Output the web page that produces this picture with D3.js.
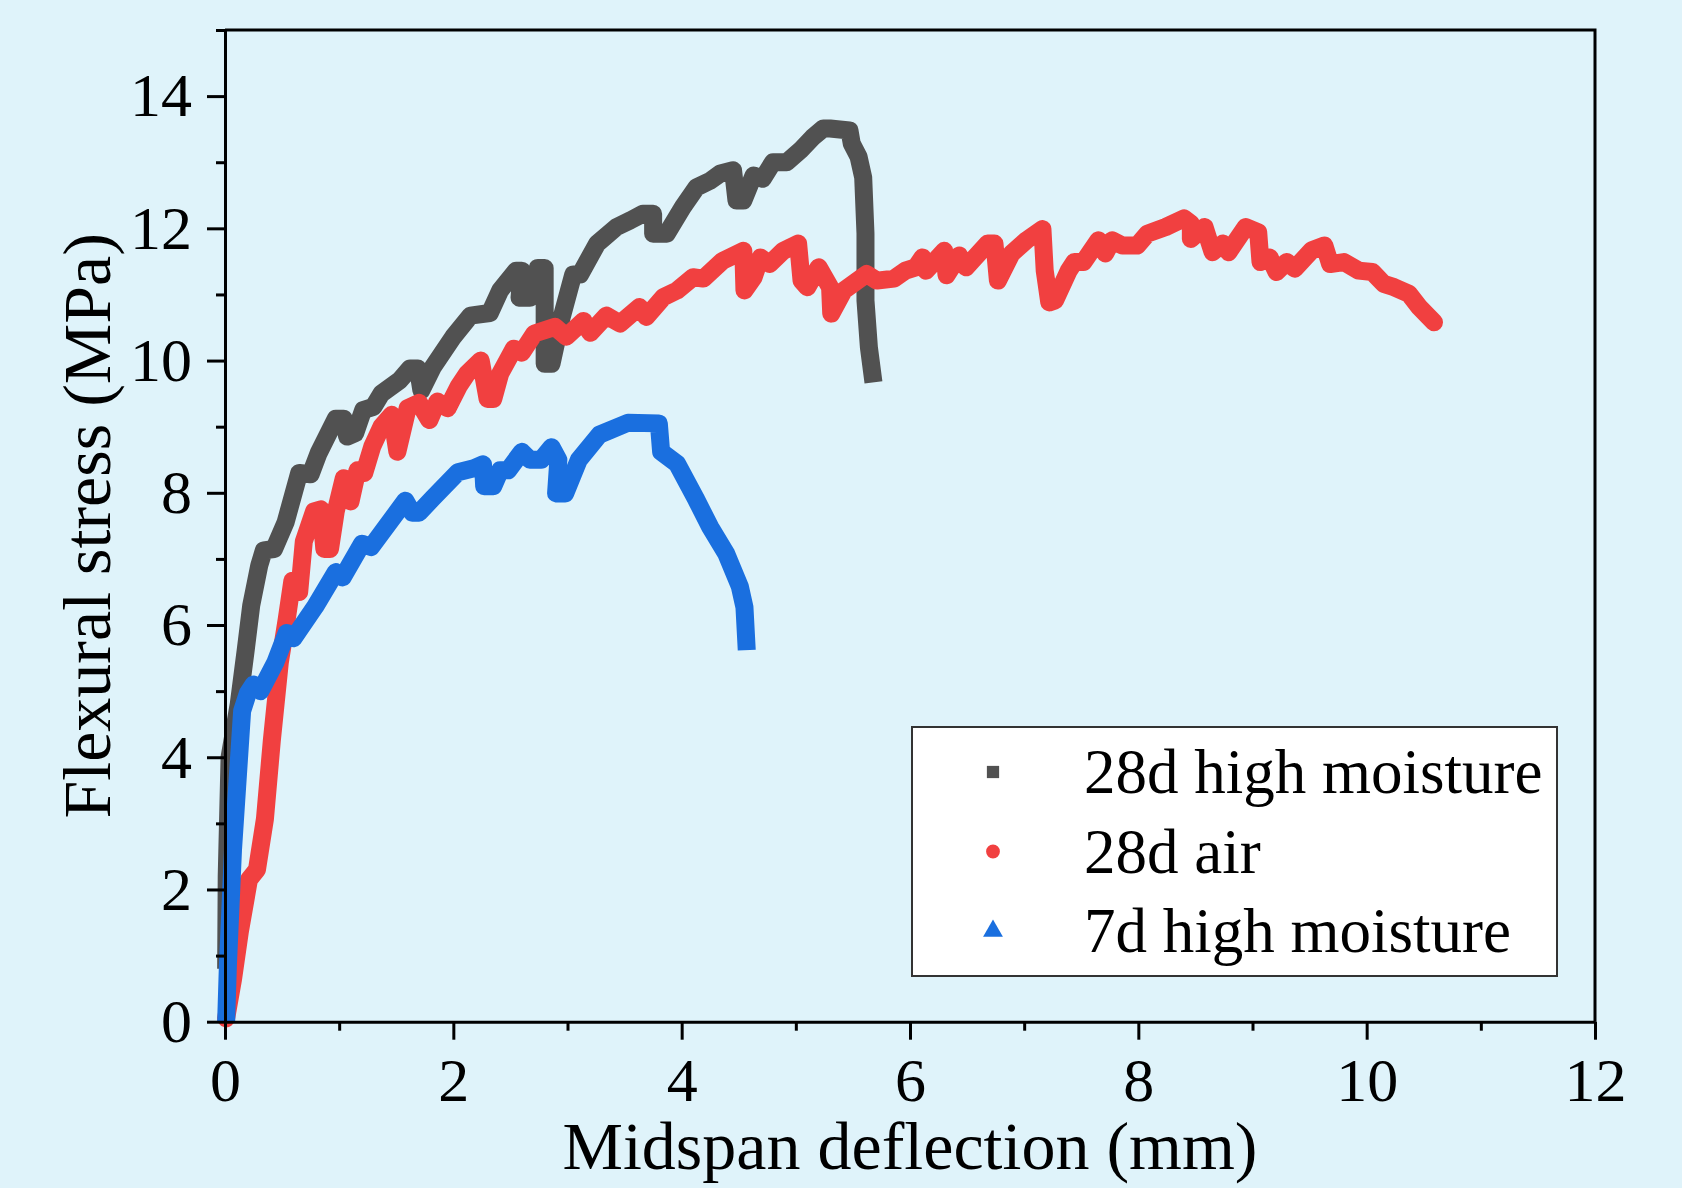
<!DOCTYPE html>
<html>
<head>
<meta charset="utf-8">
<script src="https://cdn.jsdelivr.net/npm/d3@7"></script>
<style>
  html, body { margin: 0; padding: 0; background: #DFF3FA; }
  svg text { font-family: "Liberation Serif", "Times New Roman", serif; fill: #000; }
</style>
</head>
<body>
<svg id="chart" width="1682" height="1188"></svg>
<script>
// curves: [deflection (mm), stress (MPa)]
const moist28 = [
    [0.01, 0.8], [0.015, 2.2], [0.04, 4.0], [0.12, 4.8], [0.18, 5.6], [0.23, 6.3], [0.3, 6.9],
    [0.34, 7.13], [0.43, 7.15], [0.53, 7.55], [0.65, 8.3], [0.75, 8.28], [0.82, 8.6],
    [0.97, 9.12], [1.04, 9.12], [1.07, 8.85], [1.14, 8.9], [1.21, 9.25], [1.30, 9.3],
    [1.37, 9.5], [1.53, 9.7], [1.62, 9.88], [1.69, 9.88], [1.72, 9.55], [1.82, 9.9],
    [2.0, 10.36], [2.15, 10.68], [2.32, 10.72], [2.41, 11.06], [2.55, 11.36], [2.60, 11.36],
    [2.58, 10.95], [2.67, 10.95], [2.74, 11.4], [2.80, 11.4], [2.80, 9.95], [2.86, 9.95],
    [2.95, 10.66], [3.05, 11.3], [3.11, 11.3], [3.26, 11.77], [3.43, 12.02], [3.55, 12.12],
    [3.66, 12.22], [3.75, 12.22], [3.75, 11.92], [3.87, 11.92], [4.01, 12.32], [4.13, 12.62],
    [4.25, 12.72], [4.34, 12.83], [4.45, 12.88], [4.48, 12.42], [4.54, 12.42], [4.63, 12.8],
    [4.71, 12.75], [4.80, 13.0], [4.92, 13.0], [5.04, 13.18], [5.15, 13.38], [5.24, 13.51],
    [5.30, 13.51], [5.47, 13.48], [5.49, 13.28], [5.55, 13.08], [5.59, 12.77], [5.61, 11.92],
    [5.61, 10.91], [5.64, 10.2], [5.68, 9.67]
];

const air28 = [
    [0.01, 0.05], [0.07, 0.64], [0.13, 1.36], [0.21, 2.15], [0.28, 2.3], [0.35, 3.07],
    [0.41, 4.25], [0.48, 5.43], [0.54, 6.08], [0.59, 6.67], [0.65, 6.5], [0.69, 7.26],
    [0.78, 7.72], [0.84, 7.75], [0.87, 7.15], [0.92, 7.15], [0.97, 7.72], [1.04, 8.22],
    [1.10, 7.87], [1.16, 8.34], [1.22, 8.3], [1.29, 8.7], [1.37, 9.0], [1.46, 9.18],
    [1.51, 8.62], [1.60, 9.28], [1.70, 9.36], [1.79, 9.1], [1.86, 9.38], [1.95, 9.28],
    [2.05, 9.62], [2.12, 9.8], [2.24, 10.0], [2.30, 9.42], [2.35, 9.42], [2.41, 9.8],
    [2.53, 10.18], [2.60, 10.12], [2.71, 10.41], [2.89, 10.51], [2.99, 10.36], [3.14, 10.6],
    [3.20, 10.42], [3.34, 10.68], [3.46, 10.56], [3.63, 10.81], [3.69, 10.66], [3.84, 10.96],
    [3.96, 11.06], [4.10, 11.26], [4.19, 11.24], [4.36, 11.51], [4.54, 11.66], [4.55, 11.06],
    [4.63, 11.26], [4.69, 11.56], [4.77, 11.46], [4.89, 11.66], [5.02, 11.77], [5.05, 11.21],
    [5.10, 11.11], [5.20, 11.41], [5.30, 11.11], [5.31, 10.71], [5.42, 11.06], [5.62, 11.31],
    [5.71, 11.21], [5.86, 11.24], [5.96, 11.36], [6.05, 11.41], [6.11, 11.56], [6.14, 11.36],
    [6.30, 11.66], [6.32, 11.29], [6.43, 11.59], [6.49, 11.41], [6.68, 11.77], [6.74, 11.77],
    [6.77, 11.21], [6.89, 11.62], [7.02, 11.82], [7.16, 11.99], [7.18, 11.36], [7.22, 10.88],
    [7.27, 10.91], [7.39, 11.36], [7.44, 11.49], [7.52, 11.49], [7.65, 11.82], [7.71, 11.62],
    [7.77, 11.82], [7.86, 11.74], [7.99, 11.74], [8.08, 11.92], [8.24, 12.02], [8.40, 12.15],
    [8.46, 12.07], [8.46, 11.84], [8.58, 12.02], [8.65, 11.64], [8.74, 11.77], [8.79, 11.64],
    [8.94, 12.02], [9.05, 11.94], [9.07, 11.49], [9.15, 11.56], [9.21, 11.34], [9.30, 11.49],
    [9.37, 11.39], [9.52, 11.67], [9.63, 11.74], [9.68, 11.46], [9.80, 11.49], [9.93, 11.36],
    [10.05, 11.34], [10.15, 11.16], [10.24, 11.11], [10.37, 11.01], [10.46, 10.81], [10.59, 10.58]
];

const moist7 = [
    [0.01, 0.0], [0.025, 0.84], [0.07, 2.6], [0.15, 4.7], [0.2, 4.97], [0.25, 5.1], [0.31, 5.0],
    [0.44, 5.43], [0.54, 5.88], [0.6, 5.8], [0.79, 6.28], [0.97, 6.8], [1.03, 6.72],
    [1.2, 7.23], [1.28, 7.18], [1.58, 7.88], [1.64, 7.7], [1.70, 7.7], [1.82, 7.92],
    [2.04, 8.31], [2.18, 8.37], [2.26, 8.43], [2.27, 8.1], [2.35, 8.1], [2.41, 8.34],
    [2.48, 8.34], [2.60, 8.62], [2.67, 8.5], [2.77, 8.5], [2.86, 8.69], [2.92, 8.5],
    [2.90, 7.99], [2.98, 7.99], [3.10, 8.5], [3.28, 8.88], [3.53, 9.06], [3.80, 9.05],
    [3.82, 8.62], [3.96, 8.44], [4.13, 7.89], [4.25, 7.48], [4.39, 7.08], [4.51, 6.58],
    [4.55, 6.27], [4.57, 5.62]
];

const seriesNames = ["28d high moisture", "28d air", "7d high moisture"];
const seriesColors = ["#515151", "#F14040", "#1A6FDF"];
const seriesSymbols = [d3.symbolSquare, d3.symbolCircle, d3.symbolTriangle];

const xMajor = [0, 2, 4, 6, 8, 10, 12];
const xMinor = [1, 3, 5, 7, 9, 11];
const yMajor = [0, 2, 4, 6, 8, 10, 12, 14];
const yMinor = [1, 3, 5, 7, 9, 11, 13, 15];

const width = 1682;
const height = 1188;
const plotLeft = 225, plotRight = 1595, plotTop = 30, plotBottom = 1021.7;

const svg = d3.select("#chart");

svg.append("rect")
    .attr("width", width)
    .attr("height", height)
    .attr("fill", "#DFF3FA");

const xScale = d3.scaleLinear().domain([0, 12]).range([plotLeft, plotRight]);
const yScale = d3.scaleLinear().domain([0, 15]).range([plotBottom, plotTop]);

// curves, drawn in the order Origin stacks them
const line = d3.line()
    .x(function (d) { return xScale(d[0]); })
    .y(function (d) { return yScale(d[1]); });

[moist28, air28, moist7].forEach(function (pts, i) {
    svg.append("path")
        .datum(pts)
        .attr("d", line)
        .attr("fill", "none")
        .attr("stroke", seriesColors[i])
        .attr("stroke-width", 18)
        .attr("stroke-linejoin", "round")
        .attr("stroke-linecap", i == 1 ? "round" : "butt");
});

// frame: top and right edges
svg.append("path")
    .attr("d", `M${plotLeft},${plotTop}H${plotRight}V${plotBottom}`)
    .attr("fill", "none")
    .attr("stroke", "#000")
    .attr("stroke-width", 3);

// x axis
svg.append("g")
    .attr("transform", `translate(0, ${plotBottom})`)
    .call(d3.axisBottom(xScale).tickValues(xMajor).tickSize(18).tickSizeOuter(0).tickPadding(17));
svg.append("g")
    .attr("transform", `translate(0, ${plotBottom})`)
    .call(d3.axisBottom(xScale).tickValues(xMinor).tickSize(9).tickFormat(""))
    .select(".domain").remove();

// y axis
svg.append("g")
    .attr("transform", `translate(${plotLeft}, 0)`)
    .call(d3.axisLeft(yScale).tickValues(yMajor).tickSize(18).tickSizeOuter(0).tickPadding(15));
svg.append("g")
    .attr("transform", `translate(${plotLeft}, 0)`)
    .call(d3.axisLeft(yScale).tickValues(yMinor).tickSize(9).tickFormat(""))
    .select(".domain").remove();

svg.selectAll(".domain, .tick line")
    .attr("stroke", "#000")
    .attr("stroke-width", 3);
svg.selectAll(".tick text")
    .attr("font-family", "Liberation Serif, Times New Roman, serif")
    .attr("font-size", 62)
    .attr("fill", "#000");

// axis titles
svg.append("text")
    .attr("x", (plotLeft + plotRight) / 2)
    .attr("y", 1169)
    .attr("text-anchor", "middle")
    .attr("font-size", 68)
    .text("Midspan deflection (mm)");

svg.append("text")
    .attr("transform", `translate(110, ${(plotTop + plotBottom) / 2}) rotate(-90)`)
    .attr("text-anchor", "middle")
    .attr("font-size", 68)
    .text("Flexural stress (MPa)");

// legend
const legend = svg.append("g").attr("transform", "translate(912, 727)");
legend.append("rect")
    .attr("width", 645)
    .attr("height", 249)
    .attr("fill", "#fff")
    .attr("stroke", "#333")
    .attr("stroke-width", 2);

seriesNames.forEach(function (name, i) {
    const row = legend.append("g").attr("transform", `translate(0, ${45 + i * 79.5})`);
    row.append("path")
        .attr("transform", "translate(81, 0)")
        .attr("d", d3.symbol().type(seriesSymbols[i]).size(i == 2 ? 170 : 150)())
        .attr("fill", seriesColors[i]);
    row.append("text")
        .attr("x", 172)
        .attr("y", 21)
        .attr("font-size", 63)
        .text(name);
});
</script>
</body>
</html>
